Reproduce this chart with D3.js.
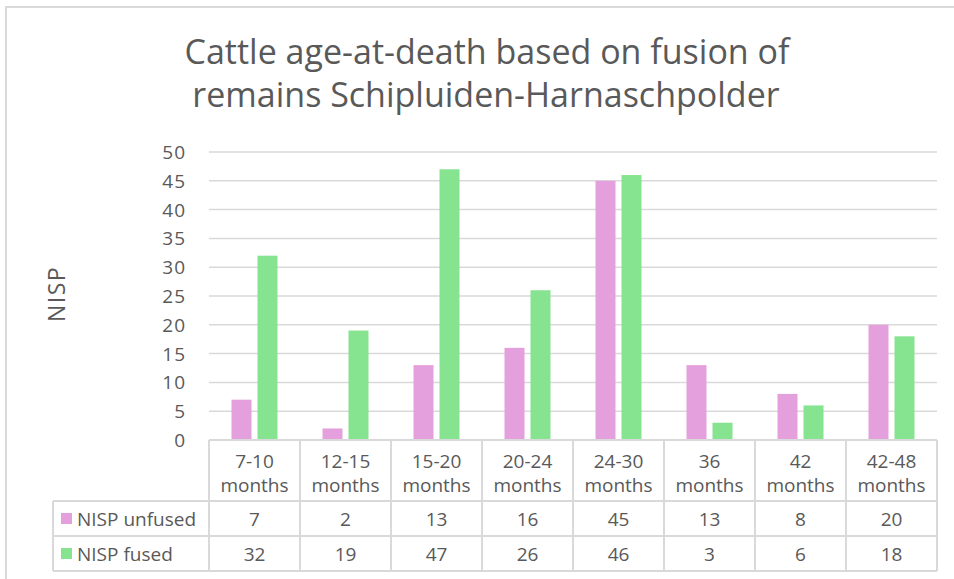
<!DOCTYPE html>
<html>
<head>
<meta charset="utf-8">
<script src="https://cdn.jsdelivr.net/npm/d3@7"></script>
<style>
  body { margin: 0; background: #fff; }
  svg text { font-family: "Open Sans", "Liberation Sans", sans-serif; fill: #595959; }
</style>
</head>
<body>
<svg id="chart" width="954" height="579"></svg>
<script>
// chart values
var categories = ['7-10 months', '12-15 months', '15-20 months', '20-24 months',
                  '24-30 months', '36 months', '42 months', '42-48 months'];
var seriesNames = ['NISP unfused', 'NISP fused'];
var unfused = [7, 2, 13, 16, 45, 13, 8, 20];
var fused = [32, 19, 47, 26, 46, 3, 6, 18];
var yTicks = [0, 5, 10, 15, 20, 25, 30, 35, 40, 45, 50];
var colors = ['#e4a0dc', '#86e38f'];

var svg = d3.select('#chart');
var plot = { left: 209, right: 937, top: 152, bottom: 440 };
var table = { legendLeft: 53, rowBottoms: [501, 536, 571] };

// outer frame
svg.append('rect')
  .attr('x', 6).attr('y', 7).attr('width', 960).attr('height', 600)
  .attr('fill', 'none').attr('stroke', '#d9d9d9').attr('stroke-width', 2);

// title
var title = svg.append('text')
  .attr('text-anchor', 'middle')
  .style('font-size', '34px');
title.append('tspan').attr('x', 487).attr('y', 64).text('Cattle age-at-death based on fusion of');
title.append('tspan').attr('x', 486).attr('y', 107).text('remains Schipluiden-Harnaschpolder');

var x = d3.scaleBand().domain(categories).range([plot.left, plot.right]);
var y = d3.scaleLinear().domain([0, 50]).range([plot.bottom, plot.top]);

// gridlines + y labels
svg.append('g').selectAll('line').data(yTicks.filter(function(d) { return d > 0; }))
  .enter().append('line')
  .attr('x1', plot.left).attr('x2', plot.right)
  .attr('y1', function(d) { return y(d); }).attr('y2', function(d) { return y(d); })
  .attr('stroke', '#d9d9d9').attr('stroke-width', 1.5);

svg.append('g').selectAll('text').data(yTicks).enter().append('text')
  .attr('x', 186).attr('y', function(d) { return y(d) + 7; })
  .attr('text-anchor', 'end').style('font-size', '19px').style('letter-spacing', '1px')
  .text(function(d) { return d; });

// axis title
svg.append('text')
  .attr('transform', 'translate(65,294) rotate(-90)')
  .attr('text-anchor', 'middle').style('font-size', '23px').style('letter-spacing', '1.5px')
  .text('NISP');

// bars
var barW = 20, gap = 6;
var series = [unfused, fused];
series.forEach(function(vals, si) {
  svg.append('g').selectAll('rect').data(vals).enter().append('rect')
    .attr('x', function(d, i) {
      var c = x(categories[i]) + x.bandwidth() / 2;
      return si === 0 ? c - gap / 2 - barW : c + gap / 2;
    })
    .attr('y', function(d) { return y(d); })
    .attr('width', barW)
    .attr('height', function(d) { return y(0) - y(d); })
    .attr('fill', colors[si]);
});

// data table
var grid = svg.append('g').attr('stroke', '#d9d9d9').attr('stroke-width', 2).attr('fill', 'none');
grid.append('line').attr('x1', plot.left).attr('x2', plot.right).attr('y1', plot.bottom).attr('y2', plot.bottom);
table.rowBottoms.forEach(function(yy) {
  grid.append('line').attr('x1', table.legendLeft).attr('x2', plot.right).attr('y1', yy).attr('y2', yy);
});
grid.append('line').attr('x1', table.legendLeft).attr('x2', table.legendLeft)
  .attr('y1', table.rowBottoms[0]).attr('y2', table.rowBottoms[2]);
categories.forEach(function(c) {
  grid.append('line').attr('x1', x(c)).attr('x2', x(c)).attr('y1', plot.bottom).attr('y2', table.rowBottoms[2]);
});
grid.append('line').attr('x1', plot.right).attr('x2', plot.right).attr('y1', plot.bottom).attr('y2', table.rowBottoms[2]);

// header cells
categories.forEach(function(c) {
  var parts = c.split(' ');
  var t = svg.append('text').attr('text-anchor', 'middle').style('font-size', '19px');
  t.append('tspan').attr('x', x(c) + x.bandwidth() / 2).attr('y', 468).text(parts[0]);
  t.append('tspan').attr('x', x(c) + x.bandwidth() / 2).attr('y', 492).text(parts[1]);
});

// value rows
series.forEach(function(vals, si) {
  var rowMid = (table.rowBottoms[si] + table.rowBottoms[si + 1]) / 2;
  svg.append('rect').attr('x', 61).attr('y', rowMid - 5.5).attr('width', 11).attr('height', 11).attr('fill', colors[si]);
  svg.append('text').attr('x', 77).attr('y', rowMid + 7).style('font-size', '19px').text(seriesNames[si]);
  svg.append('g').selectAll('text').data(vals).enter().append('text')
    .attr('x', function(d, i) { return x(categories[i]) + x.bandwidth() / 2; })
    .attr('y', rowMid + 7)
    .attr('text-anchor', 'middle').style('font-size', '19px')
    .text(function(d) { return d; });
});
</script>
</body>
</html>
